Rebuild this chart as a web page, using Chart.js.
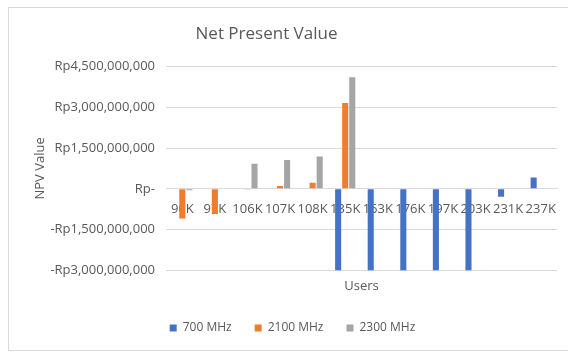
<!DOCTYPE html>
<html>
<head>
<meta charset="utf-8">
<script src="https://cdn.jsdelivr.net/npm/chart.js@4.4.1/dist/chart.umd.min.js"></script>
<style>
    body{ margin:0; background:#fff; overflow:hidden; }
    #wrap{ position:relative; width:568px; height:352px; }
    #frame{ position:absolute; left:8px; top:7px; width:600px; height:342px; border:1px solid #d9d9d9; pointer-events:none; }
</style>
</head>
<body>
<div id="wrap">
    <canvas id="graf" width="568" height="352"></canvas>
    <div id="frame"></div>
</div>
<script>
// pengguna (ribuan) per skenario
var users = ['96K','97K','106K','107K','108K','135K','163K','176K','197K','203K','231K','237K']

// NPV per frekuensi (Rupiah)
var npv700  = [0, 0, 0, 0, 0, -3000000000, -3000000000, -3000000000, -3000000000, -3000000000, -290000000, 420000000]
var npv2100 = [-1090000000, -930000000, -30000000, 100000000, 220000000, 3150000000, 0, 0, 0, 0, 0, 0]
var npv2300 = [-50000000, 0, 920000000, 1060000000, 1190000000, 4100000000, 0, 0, 0, 0, 0, 0]

var yTicks = [-3000000000, -1500000000, 0, 1500000000, 3000000000, 4500000000]

var cinza = '#595959'
var fonte = 'Open Sans'

/**
 * formata valor no padrao contabil do excel
*/
function formatRp(v){
    if(v === 0) return 'Rp-'
    return (v < 0 ? '-' : '') + 'Rp' + Math.abs(v).toLocaleString('en-US')
}

// desloca o titulo um pouco para a esquerda
var ajusteTitulo = {
    id: 'ajusteTitulo',
    afterLayout: function(chart){
        if(chart.titleBlock){
            chart.titleBlock.left -= 26
            chart.titleBlock.right -= 26
        }
    }
}

function gerarGrafico(){
    new Chart(
        document.getElementById('graf').getContext('2d'),
        {
            type: 'bar',
            data: {
                labels: users,
                datasets: [
                    { label: '700 MHz',  data: npv700,  backgroundColor: '#4472C4' },
                    { label: '2100 MHz', data: npv2100, backgroundColor: '#ED7D31' },
                    { label: '2300 MHz', data: npv2300, backgroundColor: '#A5A5A5' }
                ]
            },
            options: {
                responsive: false,
                animation: false,
                categoryPercentage: 0.65,
                barPercentage: 0.86,
                layout: { padding: { top: 7, left: 28, right: 11, bottom: 8 } },
                plugins: {
                    title: {
                        display: true,
                        text: 'Net Present Value',
                        color: cinza,
                        font: { family: fonte, size: 17, weight: 'normal' },
                        padding: { top: 17, bottom: 22 }
                    },
                    legend: {
                        position: 'bottom',
                        labels: {
                            color: cinza,
                            font: { family: fonte, size: 12 },
                            boxWidth: 7,
                            boxHeight: 7,
                            padding: 23
                        }
                    },
                    tooltip: { enabled: false }
                },
                scales: {
                    x: {
                        position: { y: 0 },
                        z: 1,
                        grid: { display: false },
                        border: { display: true, color: '#d9d9d9', width: 1 },
                        ticks: {
                            color: cinza,
                            font: { family: fonte, size: 13 },
                            padding: 5,
                            maxRotation: 0,
                            autoSkip: false
                        },
                        afterFit: function(scale){ scale.height = 0 }
                    },
                    x2: {
                        type: 'category',
                        position: 'bottom',
                        labels: users,
                        grid: { display: false },
                        border: { display: false },
                        ticks: { display: false },
                        title: {
                            display: true,
                            text: 'Users',
                            color: cinza,
                            font: { family: fonte, size: 13 },
                            padding: { top: 0, bottom: 5 }
                        }
                    },
                    y: {
                        min: -3000000000,
                        max: 4500000000,
                        afterBuildTicks: function(scale){
                            scale.ticks = yTicks.map(function(v){ return { value: v } })
                        },
                        afterFit: function(scale){ scale.width = 138 },
                        grid: { color: '#d9d9d9', drawTicks: false },
                        border: { display: false },
                        ticks: {
                            color: cinza,
                            font: { family: fonte, size: 13 },
                            padding: 11,
                            callback: function(v){ return formatRp(v) }
                        },
                        title: {
                            display: true,
                            text: 'NPV Value',
                            color: cinza,
                            font: { family: fonte, size: 13 },
                            padding: { top: 4, bottom: 0 }
                        }
                    }
                }
            },
            plugins: [ajusteTitulo]
        }
    )
}

gerarGrafico()
</script>
</body>
</html>
